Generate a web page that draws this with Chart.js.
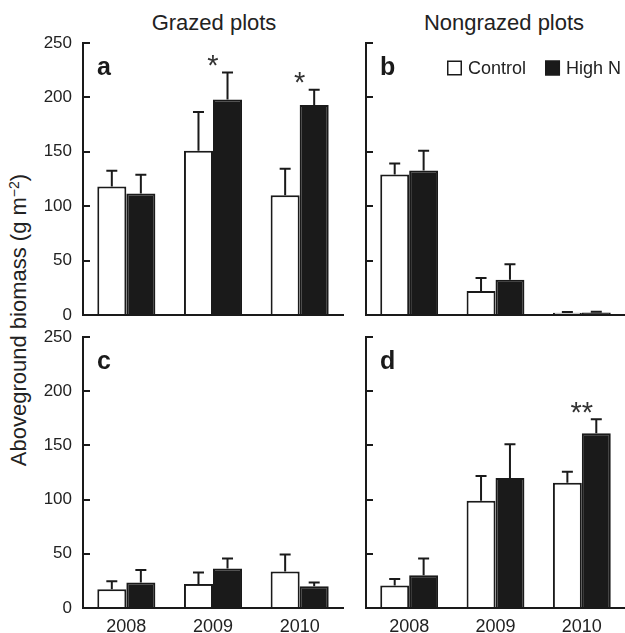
<!DOCTYPE html>
<html><head><meta charset="utf-8">
<script src="https://cdn.jsdelivr.net/npm/chart.js@4.4.1/dist/chart.umd.min.js"></script>
<style>
body{margin:0;background:#fff;width:625px;height:633px;overflow:hidden;position:relative;font-family:"Liberation Sans",Arial,sans-serif;color:#222}
canvas{position:absolute}
.t{position:absolute;font-size:22px;line-height:22px;white-space:nowrap;transform:translateX(-50%)}
#yt{position:absolute;left:19px;top:320px;font-size:22px;line-height:22px;white-space:nowrap;transform:translate(-50%,-50%) rotate(-90deg)}
#yt sup{font-size:14px;vertical-align:7px;line-height:0}
</style></head><body>
<div class="t" style="left:214px;top:12px">Grazed plots</div>
<div class="t" style="left:504px;top:12px">Nongrazed plots</div>
<div id="yt">Aboveground biomass (g m<sup>−2</sup>)</div>
<canvas id="ca" width="345" height="345" style="left:0;top:0"></canvas>
<canvas id="cb" width="280" height="345" style="left:345px;top:0"></canvas>
<canvas id="cc" width="345" height="333" style="left:0;top:305px"></canvas>
<canvas id="cd" width="280" height="333" style="left:345px;top:305px"></canvas>
<script>
const years = ['2008', '2009', '2010'];
const yTicks = [0, 50, 100, 150, 200, 250];
const seriesNames = ['Control', 'High N'];

// panel a (grazed, top row)
const aControl = [118, 151, 110];
const aControlSE = [14.6, 35.6, 24.5];
const aHighN = [111.7, 198, 193];
const aHighNSE = [17.3, 25, 14];
const aSig = ['', '*', '*'];
// panel b (nongrazed, top row)
const bControl = [129.2, 22.1, 2.0];
const bControlSE = [10.1, 11.9, 0.8];
const bHighN = [132.9, 32.5, 2.2];
const bHighNSE = [18.1, 14.2, 0.8];
const bSig = ['', '', ''];
// panel c (grazed, bottom row)
const cControl = [17.3, 22.2, 33.6];
const cControlSE = [7.4, 10.5, 15.8];
const cHighN = [23.5, 36.4, 20];
const cHighNSE = [11.6, 9.3, 3.5];
const cSig = ['', '', ''];
// panel d (nongrazed, bottom row)
const dControl = [20.7, 99, 115.6];
const dControlSE = [6.1, 22.8, 10.2];
const dHighN = [30.2, 120, 161.2];
const dHighNSE = [15.5, 31.1, 13];
const dSig = ['', '', '**'];

const INK = '#1a1a1a';
const TXT = '#222';
const FONT = '"Liberation Sans", Arial, sans-serif';

const errorBars = {
  id: 'errorBars',
  afterDatasetsDraw(chart) {
    const ctx = chart.ctx, y = chart.scales.y;
    chart.data.datasets.forEach((ds, i) => {
      chart.getDatasetMeta(i).data.forEach((bar, j) => {
        const top = y.getPixelForValue(ds.data[j]);
        const up = y.getPixelForValue(ds.data[j] + ds.se[j]);
        ctx.save();
        ctx.strokeStyle = INK; ctx.lineWidth = 2;
        ctx.beginPath();
        ctx.moveTo(bar.x, top); ctx.lineTo(bar.x, up);
        ctx.moveTo(bar.x - 5.5, up); ctx.lineTo(bar.x + 5.5, up);
        ctx.stroke();
        ctx.restore();
      });
    });
  }
};

const extras = {
  id: 'extras',
  afterDraw(chart, args, o) {
    const ctx = chart.ctx, ca = chart.chartArea, x = chart.scales.x, y = chart.scales.y;
    ctx.save();
    // panel letter
    ctx.fillStyle = INK;
    ctx.font = 'bold 25px ' + FONT;
    ctx.textAlign = 'left'; ctx.textBaseline = 'alphabetic';
    ctx.fillText(o.letter, ca.left + 14, ca.top + 32);
    // significance stars
    ctx.font = '29px ' + FONT;
    ctx.fillStyle = '#333';
    ctx.textAlign = 'center';
    (o.sig || []).forEach((s, j) => {
      if (!s) return;
      let maxUp = 0;
      chart.data.datasets.forEach(ds => { maxUp = Math.max(maxUp, ds.data[j] + ds.se[j]); });
      const cy = y.getPixelForValue(maxUp) - 12;
      const m = ctx.measureText(s);
      const h = m.actualBoundingBoxAscent + m.actualBoundingBoxDescent;
      ctx.textBaseline = 'alphabetic';
      ctx.fillText(s, x.getPixelForValue(j), cy + h / 2 - m.actualBoundingBoxDescent);
    });
    // legend
    if (o.legend) {
      ctx.font = '18px ' + FONT;
      ctx.textAlign = 'left'; ctx.textBaseline = 'middle';
      let lx = ca.left + 81;
      const ly = ca.top + 25;
      chart.data.datasets.forEach((ds, i) => {
        ctx.fillStyle = ds.backgroundColor;
        ctx.fillRect(lx, ly - 7.5, 15, 15);
        ctx.strokeStyle = INK; ctx.lineWidth = 1.5;
        ctx.strokeRect(lx + 0.75, ly - 6.75, 13.5, 13.5);
        ctx.fillStyle = TXT;
        ctx.fillText(ds.label, lx + 21, ly + 1);
        lx += 21 + ctx.measureText(ds.label).width + 19;
      });
    }
    ctx.restore();
  }
};

function makeChart(id, ctrl, ctrlSE, hn, hnSE, sig, letter, cfg) {
  new Chart(document.getElementById(id), {
    type: 'bar',
    data: {
      labels: years,
      datasets: [
        { label: seriesNames[0], data: ctrl, se: ctrlSE, backgroundColor: '#ffffff', borderColor: INK, borderWidth: 2 },
        { label: seriesNames[1], data: hn, se: hnSE, backgroundColor: INK, borderColor: INK, borderWidth: 2 }
      ]
    },
    options: {
      responsive: false, animation: false, devicePixelRatio: 1,
      layout: { padding: { top: cfg.top, left: 0, right: cfg.right, bottom: 0 } },
      datasets: { bar: { categoryPercentage: 0.67, barPercentage: 1.0 } },
      plugins: {
        legend: { display: false }, tooltip: { enabled: false },
        extras: { letter: letter, sig: sig, legend: !!cfg.legend }
      },
      scales: {
        x: {
          grid: { display: false, drawTicks: false },
          border: { display: true, color: INK, width: 2 },
          ticks: { display: !!cfg.showX, color: TXT, font: { family: FONT, size: 18 }, padding: 8, maxRotation: 0 },
          afterFit(s) { s.height = cfg.xh; }
        },
        y: {
          min: 0, max: 250,
          afterBuildTicks(s) { s.ticks = yTicks.map(v => ({ value: v })); },
          grid: { drawOnChartArea: false, drawTicks: true, tickLength: -7, color: INK, lineWidth: 2 },
          border: { display: true, color: INK, width: 2 },
          ticks: { display: !!cfg.showY, color: TXT, font: { family: FONT, size: 17 }, padding: 18 },
          afterFit(s) { s.width = cfg.yw; }
        }
      }
    },
    plugins: [errorBars, extras]
  });
}

makeChart('ca', aControl, aControlSE, aHighN, aHighNSE, aSig, 'a', { top: 43, right: 2, xh: 30, yw: 83, showY: true });
makeChart('cb', bControl, bControlSE, bHighN, bHighNSE, bSig, 'b', { top: 43, right: 0, xh: 30, yw: 21, legend: true });
makeChart('cc', cControl, cControlSE, cHighN, cHighNSE, cSig, 'c', { top: 32, right: 2, xh: 30, yw: 83, showY: true, showX: true });
makeChart('cd', dControl, dControlSE, dHighN, dHighNSE, dSig, 'd', { top: 32, right: 0, xh: 30, yw: 21, showX: true });
</script>
</body></html>
